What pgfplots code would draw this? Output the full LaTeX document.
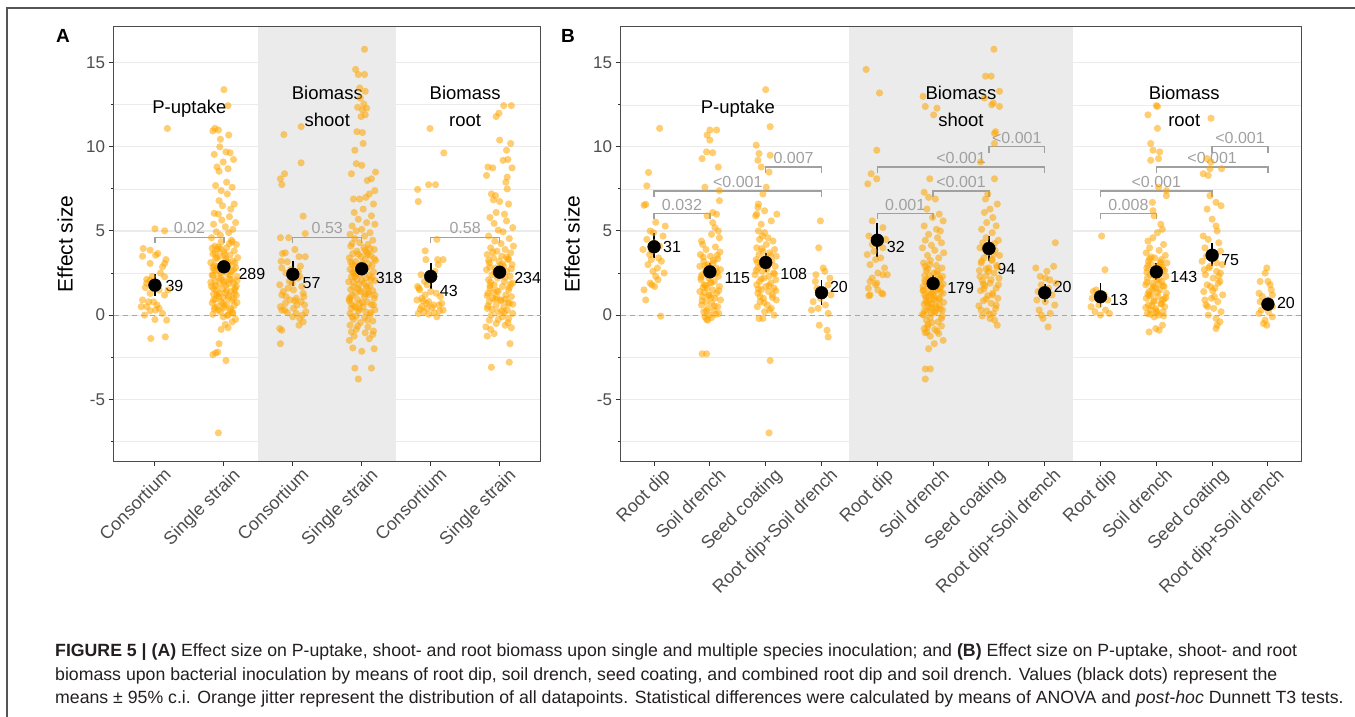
\documentclass[border=0pt]{standalone}
\usepackage{pgfplots}
\pgfplotsset{compat=1.18}
\usepackage{pgfplotstable}
\usepackage{fontspec}
\setmainfont{Liberation Sans}

\definecolor{ggorange}{HTML}{FFA500}
\definecolor{gridgrey}{HTML}{EBEBEB}
\definecolor{bandgrey}{HTML}{EBEBEB}
\definecolor{pgrey}{HTML}{A0A0A0}
\definecolor{ticktext}{HTML}{4D4D4D}
\definecolor{frame}{HTML}{555555}
\definecolor{captext}{HTML}{231F20}

% jittered data points, panel A (x = group position + jitter)
\pgfplotstableread{
x y
1.18 11.09
1.00 5.13
1.14 5.01
0.83 3.96
0.93 3.86
0.82 3.50
1.01 3.56
1.04 3.66
0.93 3.07
1.14 3.07
1.11 2.87
0.88 2.12
0.93 2.08
1.14 2.28
0.86 1.64
0.98 1.68
1.14 1.19
1.06 1.49
0.93 1.29
0.91 0.79
0.98 0.79
0.80 0.50
0.88 0.50
1.06 0.40
0.93 0.26
1.01 0.30
0.85 0.00
1.11 0.10
1.17 -0.30
1.00 -0.26
0.94 -1.39
1.15 -1.29
0.82 0.90
1.08 2.50
0.88 1.90
1.19 1.50
1.03 0.60
0.96 2.30
1.16 3.30
2.00 13.40
2.06 12.45
1.87 11.10
1.92 11.00
1.84 10.95
2.07 10.70
1.95 10.45
1.94 10.00
1.86 9.55
2.03 9.70
2.09 9.65
2.14 9.25
1.99 9.10
1.90 8.80
1.93 8.55
2.06 8.70
1.88 7.70
2.04 7.90
1.96 7.40
2.12 7.60
2.05 7.20
1.93 6.80
2.15 6.60
1.98 6.50
1.86 6.05
2.10 6.30
1.92 6.00
2.08 5.85
1.97 5.65
2.17 5.50
1.85 5.40
2.02 5.25
2.13 5.10
1.89 4.95
2.07 4.90
1.95 4.75
1.82 4.60
2.11 4.45
1.96 4.35
2.18 4.20
1.87 4.10
2.04 4.00
1.91 3.90
2.15 3.82
2.00 3.75
1.84 3.65
2.09 3.58
1.94 3.50
2.20 3.42
1.88 3.35
2.03 3.28
2.13 3.20
1.81 3.12
1.97 3.05
2.07 2.98
1.90 2.90
2.17 2.82
2.01 2.75
1.86 2.68
2.11 2.60
1.95 2.52
2.05 2.45
1.83 2.38
2.19 2.30
1.92 2.22
2.08 2.15
1.99 2.08
1.87 2.00
2.14 1.92
1.94 1.85
2.03 1.78
1.82 1.70
2.16 1.62
1.98 1.55
1.89 1.48
2.10 1.40
2.02 1.32
1.85 1.25
2.18 1.18
1.93 1.10
2.06 1.02
1.88 0.95
2.12 0.88
1.96 0.80
1.83 0.72
2.04 0.65
2.15 0.58
1.91 0.50
2.00 0.42
1.86 0.35
2.09 0.28
1.95 0.20
2.13 0.12
1.84 0.05
2.05 -0.02
1.99 -0.10
2.17 -0.25
1.90 3.40
2.06 3.15
1.86 2.95
2.14 2.70
1.97 2.55
1.84 2.35
2.10 2.10
2.00 1.95
1.88 1.75
2.16 1.50
1.93 1.30
2.07 1.15
1.85 0.90
2.19 0.75
2.01 0.55
1.92 0.30
2.12 0.15
1.95 3.95
2.08 4.25
1.87 3.70
1.83 3.98
2.01 3.62
2.16 3.10
1.89 2.62
2.09 2.40
1.96 2.18
1.81 1.95
2.18 1.72
2.04 1.45
1.90 1.20
2.14 0.98
1.98 0.70
1.87 0.45
2.10 0.38
2.07 1.85
1.94 2.85
2.19 2.05
1.85 1.58
2.03 3.38
1.92 4.05
2.12 4.35
1.99 1.05
1.84 2.82
2.15 1.28
2.06 0.02
2.12 -0.40
1.96 -0.85
2.06 -0.75
1.93 -1.70
1.88 -2.25
1.84 -2.35
1.91 -2.20
2.03 -2.70
1.92 -7.00
2.02 -0.55
2.87 10.73
3.12 11.20
3.12 9.05
2.88 8.40
2.82 8.10
2.84 7.76
3.15 5.88
3.18 4.85
2.82 4.60
2.94 4.60
3.03 3.90
2.89 3.70
2.85 3.66
3.09 3.47
3.18 3.47
2.92 3.17
3.11 2.91
2.84 2.80
3.08 2.60
2.90 2.50
3.10 2.30
2.95 2.00
2.81 1.80
3.13 1.70
3.01 1.50
3.15 1.30
2.84 1.20
2.90 1.10
3.05 1.00
2.96 0.90
3.12 0.80
2.89 0.70
3.17 0.60
2.82 0.50
3.01 0.40
2.84 0.30
3.19 0.20
2.92 0.15
3.05 0.10
3.14 0.00
3.00 -0.10
3.10 -0.20
3.15 -0.40
3.09 -0.60
2.81 -0.80
2.84 -0.90
2.82 -1.70
2.93 1.60
3.07 2.20
2.86 1.40
3.03 0.85
2.97 2.70
3.16 1.10
2.88 0.30
3.06 0.60
2.99 1.90
2.83 3.20
4.04 15.80
3.91 14.60
3.95 14.30
4.04 14.30
3.97 13.50
4.05 13.30
3.98 12.90
4.03 12.55
3.94 12.35
4.07 12.30
4.01 12.20
4.05 11.90
3.99 11.80
3.93 10.90
4.01 10.85
4.02 10.20
3.90 9.80
3.92 9.00
4.00 8.90
3.85 8.40
4.20 8.50
4.14 8.10
4.08 8.00
3.88 6.90
4.19 7.40
4.11 7.20
4.06 7.00
3.97 6.90
4.17 6.60
4.02 6.30
3.89 6.10
4.14 5.90
3.95 5.70
4.07 5.50
3.86 5.30
4.19 5.40
4.00 5.10
3.92 5.00
4.12 4.90
3.83 4.80
4.04 4.70
3.90 4.55
4.16 4.45
3.97 4.30
4.09 4.20
3.84 4.10
4.03 4.00
4.18 3.90
3.93 3.80
4.07 3.72
3.87 3.65
4.13 3.55
3.99 3.48
3.82 3.40
4.05 3.32
4.20 3.25
3.91 3.18
4.01 3.10
3.86 3.02
4.15 2.95
3.95 2.88
4.08 2.80
3.83 2.72
4.02 2.65
4.17 2.58
3.89 2.50
3.98 2.42
4.11 2.35
3.85 2.28
4.06 2.20
3.93 2.12
4.19 2.05
3.81 1.98
4.03 1.90
3.96 1.82
4.12 1.75
3.88 1.68
4.07 1.60
3.84 1.52
4.16 1.45
3.99 1.38
3.91 1.30
4.10 1.22
3.86 1.15
4.04 1.08
4.18 1.00
3.94 0.92
3.82 0.85
4.08 0.78
3.97 0.70
4.14 0.62
3.89 0.55
4.02 0.48
3.85 0.40
4.19 0.32
3.95 0.25
4.06 0.18
3.83 0.10
4.12 0.02
3.92 -0.05
4.04 -0.15
3.88 -0.25
4.16 -0.35
3.98 -0.45
4.10 3.05
3.87 2.55
4.13 2.10
3.94 1.60
4.05 1.25
3.82 0.95
4.17 0.60
3.97 0.35
4.09 3.60
3.90 2.30
3.86 4.25
4.12 3.95
3.95 3.62
4.18 3.35
3.84 3.15
4.03 2.75
3.92 2.45
4.15 2.25
3.88 1.95
4.07 1.72
3.97 1.48
4.19 1.18
3.83 1.05
4.01 0.75
3.91 0.45
4.13 0.15
3.86 -0.10
4.08 -0.30
3.94 -0.65
4.16 -1.15
4.00 2.05
3.90 2.92
4.10 1.35
3.85 0.65
4.05 3.85
3.83 -0.60
4.09 -0.70
3.92 -0.85
3.85 -1.00
4.05 -1.05
4.17 -0.95
3.89 -1.25
3.82 -1.50
4.11 -1.40
4.18 -2.00
3.87 -1.95
4.00 -2.15
3.90 -3.15
4.14 -3.15
3.95 -3.80
4.99 11.09
5.19 9.64
4.97 7.75
5.07 7.75
4.81 7.47
4.82 6.75
5.09 4.50
4.92 3.82
4.93 3.30
5.10 3.30
5.18 3.30
4.91 2.00
4.81 1.70
4.84 1.50
5.00 1.40
5.08 1.30
4.92 1.20
4.87 1.00
4.80 0.90
4.97 0.80
5.16 0.70
5.04 0.60
5.12 0.60
4.87 0.50
4.95 0.40
5.18 0.30
4.90 0.20
5.05 0.15
4.82 0.10
4.97 0.05
5.09 -0.10
4.86 2.40
5.06 2.60
4.95 1.80
5.14 1.10
4.89 0.85
5.02 0.45
5.13 0.25
4.83 1.60
5.01 2.10
4.94 0.70
5.11 3.00
4.85 0.35
6.17 12.45
6.06 12.45
5.99 12.00
5.95 11.80
6.00 10.40
6.16 10.20
6.10 9.80
6.12 9.25
6.05 9.20
5.83 8.80
5.90 8.75
6.18 8.75
5.81 8.30
6.11 8.20
6.09 7.90
6.11 7.50
5.88 7.20
5.94 7.10
5.91 6.85
6.00 6.75
6.13 6.60
5.95 6.10
6.07 6.00
5.86 5.80
6.10 5.60
5.92 5.45
6.19 5.20
5.98 5.05
6.05 4.95
5.84 4.70
6.14 4.55
5.93 4.40
6.02 4.25
6.20 4.10
5.87 4.00
6.08 3.90
5.96 3.80
6.16 3.70
5.82 3.60
6.03 3.50
5.91 3.40
6.12 3.30
5.99 3.20
5.85 3.10
6.18 3.00
6.06 2.90
5.94 2.80
5.81 2.70
6.10 2.60
6.01 2.50
5.89 2.40
6.15 2.30
5.97 2.20
5.84 2.10
6.07 2.00
6.19 1.90
5.92 1.80
6.04 1.70
5.86 1.60
6.13 1.50
5.98 1.40
5.83 1.30
6.09 1.20
6.17 1.10
5.90 1.00
6.02 0.90
5.85 0.80
6.14 0.70
5.95 0.60
6.06 0.50
5.82 0.40
6.11 0.30
5.97 0.20
6.19 0.10
5.88 0.00
6.04 -0.10
6.13 3.35
5.86 2.85
6.00 2.35
6.16 1.85
5.91 1.35
6.08 0.95
5.83 0.55
6.12 0.75
5.96 1.05
6.03 0.25
5.90 3.75
6.10 3.45
5.84 3.25
6.04 3.05
6.17 2.75
5.93 2.55
6.08 2.25
5.87 1.95
6.14 1.65
5.96 1.45
5.82 1.15
6.02 0.85
6.19 0.65
5.89 0.35
6.07 0.15
5.98 -0.25
6.12 -0.45
5.86 1.75
6.01 2.95
5.94 0.95
5.85 -0.30
6.13 -0.20
5.95 -0.50
5.80 -0.70
6.08 -0.60
5.87 -0.85
6.17 -0.75
5.92 -1.10
5.82 -1.25
6.15 -1.70
6.14 -2.80
5.88 -3.10
}\jitA

% jittered data points, panel B
\pgfplotstableread{
x y
1.10 11.10
0.90 8.48
0.87 7.68
0.82 6.53
0.85 6.58
1.03 5.52
1.20 5.29
0.87 4.50
1.01 4.30
1.10 4.10
0.96 3.80
0.92 3.60
1.08 3.40
0.95 3.30
0.89 3.00
1.06 2.80
0.98 2.60
1.03 2.30
0.93 1.90
0.96 1.80
1.01 1.70
0.85 0.90
1.12 -0.06
1.16 4.70
0.80 3.90
0.99 4.90
1.13 3.20
1.07 2.10
0.82 1.50
0.93 5.00
1.18 2.50
2.00 11.00
2.12 11.00
1.95 10.70
2.00 10.40
1.94 9.70
2.05 9.65
1.86 9.30
2.15 8.80
1.91 7.60
2.17 7.40
2.17 6.80
2.05 6.10
2.12 6.00
1.95 5.90
2.05 5.50
2.09 5.20
2.15 5.00
2.03 4.80
2.17 4.60
1.85 4.40
1.87 4.20
2.10 4.05
1.93 3.90
2.18 3.75
1.83 3.60
2.01 3.50
2.14 3.35
1.89 3.20
2.06 3.10
1.97 3.00
1.82 2.90
2.11 2.80
2.19 2.70
1.92 2.60
2.04 2.50
1.86 2.40
2.15 2.30
1.98 2.20
1.84 2.10
2.08 2.00
2.01 1.90
1.90 1.80
2.17 1.70
1.95 1.60
2.05 1.50
1.82 1.40
2.12 1.30
1.99 1.20
1.87 1.10
2.09 1.00
2.19 0.90
1.93 0.80
2.03 0.70
1.85 0.60
2.14 0.50
1.96 0.40
2.07 0.30
1.89 0.20
2.16 0.10
2.00 0.00
1.91 -0.10
1.94 -0.25
1.96 -0.30
2.10 2.45
1.88 1.65
2.02 1.05
2.13 3.55
1.91 2.95
1.88 3.45
2.06 3.25
1.95 2.85
2.13 2.55
1.84 2.25
2.02 1.95
1.92 1.75
2.16 1.45
1.98 1.15
1.86 0.85
2.08 0.55
1.94 0.25
2.11 0.05
2.03 -0.15
1.90 1.35
1.86 -2.30
1.94 -2.30
3.00 13.40
3.08 11.20
2.83 10.10
2.88 9.60
3.08 9.50
2.86 9.20
2.92 8.80
3.06 8.50
3.01 7.60
2.95 7.20
2.87 6.60
2.86 6.40
2.98 6.20
3.20 6.00
2.84 6.00
2.82 5.90
3.10 5.60
2.92 5.40
2.87 5.00
2.98 4.90
2.94 4.70
3.04 4.60
2.89 4.50
3.13 4.40
3.01 4.20
2.84 4.00
3.16 3.90
2.95 3.80
3.07 3.70
2.88 3.60
3.19 3.50
2.99 3.40
2.83 3.30
3.11 3.20
3.04 3.10
2.91 3.00
3.17 2.90
2.86 2.80
3.02 2.70
2.94 2.60
3.14 2.50
2.81 2.40
3.06 2.30
2.97 2.20
3.18 2.10
2.89 2.00
3.09 1.90
2.84 1.80
3.00 1.70
3.15 1.60
2.92 1.50
3.05 1.40
2.86 1.30
3.12 1.20
2.96 1.00
3.19 0.90
2.90 0.80
3.03 0.60
2.85 0.50
3.10 0.40
2.98 0.20
3.15 0.00
2.88 -0.20
2.95 -0.20
2.93 3.95
3.09 3.55
2.85 3.15
3.03 2.85
3.16 2.45
2.92 2.15
3.06 1.75
2.87 1.55
3.12 1.05
2.97 0.75
2.83 2.65
3.01 3.25
3.18 1.45
2.90 1.10
3.07 0.30
3.08 -2.70
3.06 -7.00
3.98 5.60
3.95 4.00
4.03 2.80
4.06 2.60
3.90 2.40
4.15 2.20
3.89 2.00
4.12 1.80
3.92 1.60
4.06 1.40
4.17 1.20
3.98 1.00
3.85 0.80
4.07 0.60
3.94 0.40
3.82 0.30
4.12 0.10
3.96 -0.60
4.10 -0.90
4.12 -1.30
4.80 14.60
5.04 13.20
4.99 9.80
4.89 8.40
4.99 8.10
4.83 7.80
4.91 5.60
5.10 5.20
4.85 4.70
5.15 4.50
4.91 4.20
5.10 4.00
4.82 3.60
5.06 3.40
4.97 3.30
4.87 3.00
5.01 2.50
5.10 2.40
5.18 2.40
4.91 2.20
4.87 2.00
4.97 1.80
4.84 1.60
5.01 1.50
5.08 1.30
4.87 1.20
4.85 1.15
5.10 1.25
5.13 2.80
4.94 3.80
5.03 4.40
4.99 1.90
5.82 13.00
5.86 12.40
6.07 12.30
6.01 11.90
5.94 8.10
5.84 7.30
5.92 7.00
6.04 6.90
5.89 6.30
6.11 6.00
5.99 5.80
6.18 5.60
5.84 5.30
6.06 5.10
6.13 5.00
5.92 4.80
6.08 4.60
5.86 4.45
6.15 4.30
5.97 4.15
5.81 4.00
6.03 3.85
6.19 3.70
5.90 3.55
6.10 3.40
5.95 3.25
5.83 3.10
6.06 2.95
6.16 2.80
5.88 2.65
6.01 2.50
5.93 2.35
6.12 2.20
5.85 2.05
6.04 1.95
6.18 1.85
5.91 1.75
5.98 1.65
6.09 1.55
5.82 1.45
6.14 1.35
5.96 1.25
6.02 1.15
5.87 1.05
6.11 0.95
5.93 0.85
6.19 0.75
5.84 0.65
6.05 0.55
5.97 0.45
6.13 0.35
5.89 0.25
6.02 0.15
5.81 0.05
6.16 -0.05
5.95 -0.15
5.86 2.90
6.07 2.45
5.92 2.10
6.14 1.70
5.83 1.50
6.00 1.30
6.11 1.00
5.90 0.70
6.06 0.40
5.97 0.10
5.87 1.95
6.17 2.30
5.94 3.00
6.03 0.90
5.85 0.30
6.12 1.60
5.90 2.75
6.08 2.60
5.85 2.35
6.13 2.10
5.96 1.90
5.82 1.70
6.05 1.50
6.18 1.30
5.91 1.10
6.00 0.95
5.87 0.80
6.11 0.60
5.94 0.45
6.04 0.20
5.83 0.00
6.15 -0.20
5.98 -0.45
5.90 -0.70
6.10 -1.10
6.06 1.75
5.93 1.40
6.17 0.30
5.85 1.20
6.01 2.00
5.97 0.65
5.88 -0.30
6.09 -0.40
5.91 -0.55
6.15 -0.65
5.84 -0.80
6.03 -0.85
5.89 -1.00
5.86 -1.05
6.07 -0.95
5.95 -1.25
6.18 -1.50
6.02 -1.70
5.92 -2.00
5.86 -3.20
5.95 -3.20
5.86 -3.80
7.09 15.80
6.94 14.20
7.04 14.20
7.19 13.30
6.92 12.90
7.08 12.60
7.19 12.40
7.05 12.50
7.12 10.90
7.10 10.80
7.10 10.20
6.85 9.10
7.10 8.10
6.98 7.20
6.94 6.90
7.15 6.60
7.02 6.30
6.92 6.10
7.07 5.80
6.96 5.50
7.13 5.30
6.87 5.10
7.06 4.90
6.95 4.60
7.17 4.45
6.89 4.30
7.03 4.15
6.84 4.00
7.11 3.85
6.97 3.70
7.19 3.55
6.91 3.40
7.05 3.25
6.86 3.10
7.14 2.95
7.00 2.80
6.83 2.65
7.09 2.50
6.95 2.35
7.18 2.20
6.88 2.05
7.02 1.90
6.93 1.75
7.13 1.60
6.85 1.45
7.07 1.30
6.98 1.15
7.16 1.00
6.90 0.85
7.04 0.70
6.82 0.55
7.12 0.40
6.96 0.25
7.08 0.10
6.88 -0.05
7.02 -0.20
7.10 -0.30
7.15 -0.60
6.95 2.75
7.06 3.30
6.90 1.85
6.92 3.95
7.08 3.60
6.87 3.20
7.15 2.85
6.99 2.60
6.84 2.30
7.04 2.10
7.17 1.80
6.91 1.55
7.06 1.20
6.95 0.95
7.13 0.60
6.86 0.30
7.01 0.05
7.10 4.25
8.19 4.30
7.84 2.80
8.04 2.60
8.16 2.90
7.92 2.30
8.09 2.10
7.94 1.80
8.07 1.60
7.88 1.40
8.13 1.20
7.86 0.90
8.01 0.80
8.18 0.60
7.90 0.30
8.10 0.10
7.94 0.00
7.97 -0.20
8.06 -0.70
8.20 1.90
8.01 2.20
9.02 4.70
9.08 2.70
8.92 1.50
9.07 1.20
8.85 1.00
9.13 0.90
8.97 0.60
8.83 0.50
9.09 0.30
8.90 0.20
9.16 0.10
9.00 0.00
8.87 1.40
10.02 12.40
10.00 12.45
9.85 11.90
10.02 11.10
9.90 10.20
9.94 9.80
10.06 9.70
10.04 9.30
9.90 9.20
10.04 7.60
10.18 7.40
10.18 7.10
9.93 6.70
9.94 6.20
9.96 5.90
10.08 5.40
10.11 5.10
10.02 4.90
9.94 4.60
9.85 4.40
10.13 4.20
9.88 4.00
10.05 3.85
9.82 3.70
10.16 3.55
9.97 3.40
10.09 3.30
9.86 3.20
10.19 3.10
9.92 3.00
10.03 2.90
9.83 2.80
10.12 2.70
9.96 2.60
10.07 2.50
9.89 2.40
10.17 2.30
9.84 2.20
10.01 2.10
10.10 2.00
9.93 1.90
9.81 1.80
10.14 1.70
9.98 1.60
10.06 1.50
9.87 1.40
10.18 1.30
9.91 1.20
10.03 1.10
9.82 1.00
10.11 0.90
9.95 0.80
10.08 0.70
9.86 0.60
10.15 0.50
9.99 0.40
9.90 0.30
10.12 0.20
9.84 0.10
10.04 0.00
9.96 -0.10
9.88 3.35
10.11 2.85
9.95 2.35
10.04 1.85
9.85 1.25
10.14 0.95
9.92 0.55
10.00 0.25
10.08 3.05
9.83 2.55
9.91 3.45
10.07 3.15
9.85 2.95
10.15 2.65
9.97 2.45
10.05 2.15
9.83 1.95
10.12 1.75
9.93 1.55
10.02 1.35
9.87 1.15
10.17 1.05
9.96 0.85
10.09 0.65
9.81 0.45
10.01 0.15
9.89 0.05
10.13 -0.05
9.95 1.70
10.06 2.75
10.11 -0.60
9.99 -0.80
9.87 -1.00
10.05 -0.90
10.98 11.70
10.91 9.30
10.98 9.10
10.96 8.70
11.17 8.70
10.84 8.40
10.93 8.30
10.96 7.10
11.07 6.70
11.16 6.50
10.91 6.30
11.00 5.70
11.07 5.30
11.09 5.00
10.84 4.70
10.93 4.50
11.12 4.30
10.87 4.00
11.15 3.80
10.97 3.60
11.05 3.40
10.82 3.20
11.18 3.00
10.94 2.80
11.08 2.60
10.88 2.40
11.02 2.20
11.14 2.00
10.91 1.80
11.05 1.60
10.85 1.40
11.19 1.20
10.99 1.00
11.10 0.80
10.89 0.60
11.03 0.40
11.16 0.20
10.93 0.00
11.07 -0.20
11.14 -0.40
11.09 -0.60
11.07 -0.80
10.96 2.90
11.11 1.90
10.87 0.90
11.01 1.45
10.90 3.50
11.08 3.10
10.86 2.70
11.12 2.30
10.97 1.70
11.04 1.10
10.92 0.50
11.15 2.50
11.98 2.80
11.95 2.50
11.86 2.00
12.00 2.00
12.04 1.80
11.84 1.30
12.08 1.20
11.90 1.10
12.00 0.90
11.86 0.80
11.95 0.60
12.08 0.50
11.88 0.30
12.01 0.20
11.84 0.10
12.08 -0.10
11.95 -0.30
11.92 -0.50
11.98 -0.60
12.06 1.50
}\jitB

\pgfplotsset{
  panel/.style={
    scale only axis, height=434.3pt,
    ymin=-8.67, ymax=17.14,
    ytick={-5,0,5,10,15}, minor ytick={-7.5,-2.5,2.5,7.5,12.5},
    ymajorgrids, yminorgrids,
    major grid style={draw=gridgrey, line width=1.1pt},
    minor grid style={draw=gridgrey, line width=0.55pt},
    axis line style={draw=black!70, line width=1pt},
    tick style={draw=black!80, line width=1pt},
    tick align=outside, major tick length=5pt, tick pos=left,
    yticklabel style={font=\fontsize{17}{18}\selectfont, text=ticktext,
      /pgf/number format/assume math mode=true},
    xticklabel style={font=\fontsize{18}{19}\selectfont, text=ticktext,
      rotate=45, anchor=north east, inner sep=0pt, xshift=5pt, yshift=-6pt},
  },
  jitter/.style={only marks, mark=*, mark size=3.6pt,
    mark options={draw=ggorange, fill=ggorange, draw opacity=0, fill opacity=0.55}},
  means/.style={only marks, mark=*, mark size=6.4pt,
    mark options={draw=black, fill=black},
    error bars/.cd, y dir=both, y explicit, error mark=none,
    error bar style={line width=1.8pt, black}},
  bracket/.style={no marks, draw=pgrey, line width=1.3pt},
  zero/.style={no marks, draw=black!35, line width=1.2pt, dash pattern=on 5pt off 4pt},
  band/.style={draw=none, fill=bandgrey},
}

\begin{document}
\begin{tikzpicture}[x=1pt, y=1pt]
\path[use as bounding box] (0,0) rectangle (1355,716);
\draw[frame, line width=1.3pt] (7,-2) -- (7,708) -- (1360,708);

\node[font=\bfseries\fontsize{19}{19}\selectfont] at (63,680) {A};
\node[font=\bfseries\fontsize{19}{19}\selectfont] at (568,680) {B};
\node[rotate=90, font=\fontsize{21}{21}\selectfont] at (65,472) {Effect size};
\node[rotate=90, font=\fontsize{21}{21}\selectfont] at (572,472) {Effect size};

% ---------------- panel A ----------------
\begin{axis}[panel, at={(113.6pt,255pt)}, anchor=south west, width=427.4pt,
  xmin=0.4, xmax=6.6, xtick={1,...,6},
  xticklabels={Consortium, Single strain, Consortium, Single strain, Consortium, Single strain}]
\addplot[band] coordinates {(2.5,-8.67) (4.5,-8.67) (4.5,17.14) (2.5,17.14)} -- cycle;
\addplot[jitter] table {\jitA};
\addplot[zero] coordinates {(0.4,0) (6.6,0)};
\addplot[means] coordinates {
  (1,1.78) += (0,0.65) -= (0,0.63)
  (2,2.87) += (0,0.33) -= (0,0.32)
  (3,2.43) += (0,0.77) -= (0,0.71)
  (4,2.75) += (0,0.30) -= (0,0.30)
  (5,2.30) += (0,0.80) -= (0,0.77)
  (6,2.55) += (0,0.33) -= (0,0.30)
};
\addplot[bracket] coordinates {(1,4.26) (1,4.61) (2,4.61) (2,4.26)};
\addplot[bracket] coordinates {(3,4.26) (3,4.61) (4,4.61) (4,4.26)};
\addplot[bracket] coordinates {(5,4.26) (5,4.61) (6,4.61) (6,4.26)};
\begin{scope}[every node/.style={font=\fontsize{16}{16}\selectfont, text=pgrey}]
\node at (axis cs:1.5,5.15) {0.02};
\node at (axis cs:3.5,5.15) {0.53};
\node at (axis cs:5.5,5.15) {0.58};
\end{scope}
\begin{scope}[every node/.style={font=\fontsize{16}{16}\selectfont, anchor=west, inner sep=0pt}]
\node at (axis cs:1.15,1.72) {39};
\node at (axis cs:2.21,2.43) {289};
\node at (axis cs:3.14,1.88) {57};
\node at (axis cs:4.20,2.22) {318};
\node at (axis cs:5.13,1.41) {43};
\node at (axis cs:6.21,2.22) {234};
\end{scope}
\begin{scope}[every node/.style={font=\fontsize{18.5}{18.5}\selectfont, anchor=base}]
\node at (axis cs:1.5,12.0) {P-uptake};
\node at (axis cs:3.5,12.8) {Biomass};
\node at (axis cs:3.5,11.22) {shoot};
\node at (axis cs:5.5,12.8) {Biomass};
\node at (axis cs:5.5,11.22) {root};
\end{scope}
\end{axis}

% ---------------- panel B ----------------
\begin{axis}[panel, at={(620.6pt,255pt)}, anchor=south west, width=680.8pt,
  xmin=0.4, xmax=12.6, xtick={1,...,12},
  xticklabels={Root dip, Soil drench, Seed coating, Root dip+Soil drench,
               Root dip, Soil drench, Seed coating, Root dip+Soil drench,
               Root dip, Soil drench, Seed coating, Root dip+Soil drench}]
\addplot[band] coordinates {(4.5,-8.67) (8.5,-8.67) (8.5,17.14) (4.5,17.14)} -- cycle;
\addplot[jitter] table {\jitB};
\addplot[zero] coordinates {(0.4,0) (12.6,0)};
\addplot[means] coordinates {
  (1,4.06) += (0,0.83) -= (0,0.69)
  (2,2.57) += (0,0.50) -= (0,0.39)
  (3,3.13) += (0,0.59) -= (0,0.56)
  (4,1.33) += (0,0.75) -= (0,0.74)
  (5,4.45) += (0,1.03) -= (0,0.99)
  (6,1.88) += (0,0.49) -= (0,0.40)
  (7,3.96) += (0,0.73) -= (0,0.73)
  (8,1.33) += (0,0.51) -= (0,0.54)
  (9,1.09) += (0,0.83) -= (0,0.63)
  (10,2.57) += (0,0.50) -= (0,0.49)
  (11,3.56) += (0,0.73) -= (0,0.63)
  (12,0.65) += (0,0.38) -= (0,0.39)
};
% P-uptake comparisons
\addplot[bracket] coordinates {(1,5.69) (1,6.04) (2,6.04) (2,5.69)};
\addplot[bracket] coordinates {(1,7.03) (1,7.38) (4,7.38) (4,7.03)};
\addplot[bracket] coordinates {(3,8.46) (3,8.81) (4,8.81) (4,8.46)};
% shoot comparisons
\addplot[bracket] coordinates {(5,5.69) (5,6.04) (6,6.04) (6,5.69)};
\addplot[bracket] coordinates {(6,7.03) (6,7.38) (7,7.38) (7,7.03)};
\addplot[bracket] coordinates {(5,8.46) (5,8.81) (8,8.81) (8,8.46)};
\addplot[bracket] coordinates {(7,9.65) (7,10.0) (8,10.0) (8,9.65)};
% root comparisons
\addplot[bracket] coordinates {(9,5.69) (9,6.04) (10,6.04) (10,5.69)};
\addplot[bracket] coordinates {(9,7.03) (9,7.38) (11,7.38) (11,7.03)};
\addplot[bracket] coordinates {(10,8.46) (10,8.81) (12,8.81) (12,8.46)};
\addplot[bracket] coordinates {(11,9.65) (11,10.0) (12,10.0) (12,9.65)};
\begin{scope}[every node/.style={font=\fontsize{16}{16}\selectfont, text=pgrey}]
\node at (axis cs:1.5,6.56) {0.032};
\node at (axis cs:2.5,7.90) {<0.001};
\node at (axis cs:3.5,9.33) {0.007};
\node at (axis cs:5.5,6.56) {0.001};
\node at (axis cs:6.5,7.90) {<0.001};
\node at (axis cs:6.5,9.33) {<0.001};
\node at (axis cs:7.5,10.52) {<0.001};
\node at (axis cs:9.5,6.56) {0.008};
\node at (axis cs:10,7.90) {<0.001};
\node at (axis cs:11,9.33) {<0.001};
\node at (axis cs:11.5,10.52) {<0.001};
\end{scope}
\begin{scope}[every node/.style={font=\fontsize{16}{16}\selectfont, anchor=west, inner sep=0pt}]
\node at (axis cs:1.16,4.06) {31};
\node at (axis cs:2.26,2.22) {115};
\node at (axis cs:3.26,2.43) {108};
\node at (axis cs:4.15,1.68) {20};
\node at (axis cs:5.17,4.02) {32};
\node at (axis cs:6.25,1.64) {179};
\node at (axis cs:7.15,2.77) {94};
\node at (axis cs:8.16,1.68) {20};
\node at (axis cs:9.17,0.89) {13};
\node at (axis cs:10.25,2.28) {143};
\node at (axis cs:11.16,3.27) {75};
\node at (axis cs:12.16,0.75) {20};
\end{scope}
\begin{scope}[every node/.style={font=\fontsize{18.5}{18.5}\selectfont, anchor=base}]
\node at (axis cs:2.5,12.0) {P-uptake};
\node at (axis cs:6.5,12.8) {Biomass};
\node at (axis cs:6.5,11.22) {shoot};
\node at (axis cs:10.5,12.8) {Biomass};
\node at (axis cs:10.5,11.22) {root};
\end{scope}
\end{axis}

% caption
\begin{scope}[every node/.style={anchor=base west, inner sep=0pt, text=captext, font=\fontsize{17.7}{20}\selectfont}]
\node at (55,60) {\textbf{FIGURE 5 | (A)} Effect size on P-uptake, shoot- and root biomass upon single and multiple species inoculation; and \textbf{(B)} Effect size on P-uptake, shoot- and root};
\node at (55,36) {biomass upon bacterial inoculation by means of root dip, soil drench, seed coating, and combined root dip and soil drench. Values (black dots) represent the};
\node at (55,13) {means ± 95\% c.i. Orange jitter represent the distribution of all datapoints. Statistical differences were calculated by means of ANOVA and \textit{post-hoc} Dunnett T3 tests.};
\end{scope}
\end{tikzpicture}
\end{document}
